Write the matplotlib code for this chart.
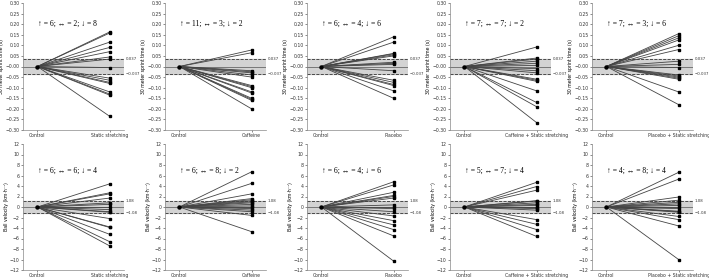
import matplotlib
matplotlib.use('Agg')
import matplotlib.pyplot as plt
import numpy as np

# 30 m sprint time change (s) per participant, control -> condition
conditions = ['Static stretching', 'Caffeine', 'Placebo',
              'Caffeine + Static stretching', 'Placebo + Static stretching']

sprint = [
    [0.163, 0.158, 0.115, 0.09, 0.07, 0.045, 0.035, -0.005,
     -0.055, -0.065, -0.075, -0.08, -0.12, -0.13, -0.135, -0.235],
    [0.078, 0.065, -0.02, -0.025, -0.03, -0.04, -0.05, -0.09,
     -0.095, -0.1, -0.12, -0.125, -0.15, -0.155, -0.16, -0.2],
    [0.14, 0.115, 0.062, 0.06, 0.055, 0.05, 0.02, 0.015,
     0.01, -0.02, -0.065, -0.075, -0.085, -0.09, -0.115, -0.15],
    [0.092, 0.04, 0.035, 0.025, 0.015, 0.005, -0.01, -0.02,
     -0.03, -0.06, -0.065, -0.07, -0.115, -0.17, -0.19, -0.265],
    [0.155, 0.145, 0.135, 0.125, 0.1, 0.08, 0.025, 0.01,
     -0.005, -0.04, -0.045, -0.05, -0.055, -0.06, -0.12, -0.18],
]
sprint_counts = ['↑ = 6; ↔ = 2; ↓ = 8', '↑ = 11; ↔ = 3; ↓ = 2', '↑ = 6; ↔ = 4; ↓ = 6',
                 '↑ = 7; ↔ = 7; ↓ = 2', '↑ = 7; ↔ = 3; ↓ = 6']
sprint_swc = 0.037

# ball velocity change (km/h)
ball = [
    [4.4, 2.7, 2.5, 1.7, 0.8, 0.5, 0.0, -0.5,
     -0.9, -1.0, -2.2, -3.8, -3.9, -5.2, -6.6, -7.4],
    [6.7, 4.5, 2.5, 1.6, 1.4, 1.2, 1.0, 0.8,
     0.5, 0.2, 0.0, -0.3, -0.6, -0.9, -1.6, -4.7],
    [4.8, 4.2, 2.8, 2.2, 2.0, 1.7, 0.4, 0.0,
     -0.3, -0.9, -1.7, -2.6, -3.4, -4.3, -5.5, -10.3],
    [4.7, 3.9, 3.2, 1.2, 1.15, 0.8, 0.5, 0.3,
     0.0, -0.1, -0.3, -0.6, -2.4, -3.3, -4.3, -5.6],
    [6.6, 5.3, 1.9, 1.3, 0.9, 0.6, 0.3, 0.0,
     -0.3, -0.8, -0.9, -1.0, -1.8, -2.4, -3.6, -10.0],
]
ball_counts = ['↑ = 6; ↔ = 6; ↓ = 4', '↑ = 6; ↔ = 8; ↓ = 2', '↑ = 6; ↔ = 4; ↓ = 6',
               '↑ = 5; ↔ = 7; ↓ = 4', '↑ = 4; ↔ = 8; ↓ = 4']
ball_swc = 1.08

fig = plt.figure(figsize=(7.09, 2.79), dpi=100)
W, H = 709.0, 279.0
serif = ['Liberation Serif', 'DejaVu Serif']


def panel(ax, vals, cond, count, swc, swc_lab, ylim, yticks, yfmt, ylabel, text_y):
    ax.axhspan(-swc, swc, color='#d3d3d3', zorder=0)
    ax.axhline(swc, color='#333333', ls='--', lw=0.6, zorder=1)
    ax.axhline(-swc, color='#333333', ls='--', lw=0.6, zorder=1)
    ax.axhline(0, color='#777777', lw=0.7, zorder=1)
    for v in vals:
        ax.plot([0, 1], [0, v], color='#444444', lw=0.6, zorder=2)
        ax.plot([1], [v], marker='s', ms=1.6, color='black', zorder=3)
    ax.plot([0], [0], marker='o', ms=2.2, color='black', zorder=3)
    ax.set_xlim(-0.2, 1.2)
    ax.set_ylim(*ylim)
    ax.set_yticks(yticks)
    ax.set_yticklabels([yfmt(t) for t in yticks])
    ax.set_xticks([0, 1])
    ax.set_xticklabels(['Control', cond])
    ax.tick_params(labelsize=3.3, length=1.5, width=0.4, pad=1, colors='#333333')
    for s in ['top', 'right']:
        ax.spines[s].set_visible(False)
    for s in ['left', 'bottom']:
        ax.spines[s].set_linewidth(0.5)
        ax.spines[s].set_color('#888888')
    ax.set_ylabel(ylabel, fontsize=3.3, labelpad=0.8)
    ax.text(1.015, swc, swc_lab, transform=ax.get_yaxis_transform(), fontsize=2.8,
            va='center', ha='left', color='#333333')
    ax.text(1.015, -swc, '\u2212' + swc_lab, transform=ax.get_yaxis_transform(), fontsize=2.8,
            va='center', ha='left', color='#333333')
    ax.text(0.15, text_y, count, transform=ax.transAxes, fontsize=5.5,
            family=serif, va='center', ha='left')


lefts = [23, 165, 307, 450, 592]
aw = 101
for i in range(5):
    ax = fig.add_axes([lefts[i] / W, 1 - 130 / H, aw / W, 127 / H])
    panel(ax, sprint[i], conditions[i], sprint_counts[i], sprint_swc, '0.037',
          (-0.30, 0.30), np.round(np.arange(-0.30, 0.31, 0.05), 2),
          lambda t: ('%.2f' % t).replace('-', '\u2212'),
          '30 meter sprint time (s)', 0.84)

for i in range(5):
    ax = fig.add_axes([lefts[i] / W, 1 - 270 / H, aw / W, 126 / H])
    panel(ax, ball[i], conditions[i], ball_counts[i], ball_swc, '1.08',
          (-12, 12), np.arange(-12, 13, 2),
          lambda t: ('%d' % t).replace('-', '\u2212'),
          'Ball velocity (km·h⁻¹)', 0.79)

fig.savefig('out.png', dpi=100)
